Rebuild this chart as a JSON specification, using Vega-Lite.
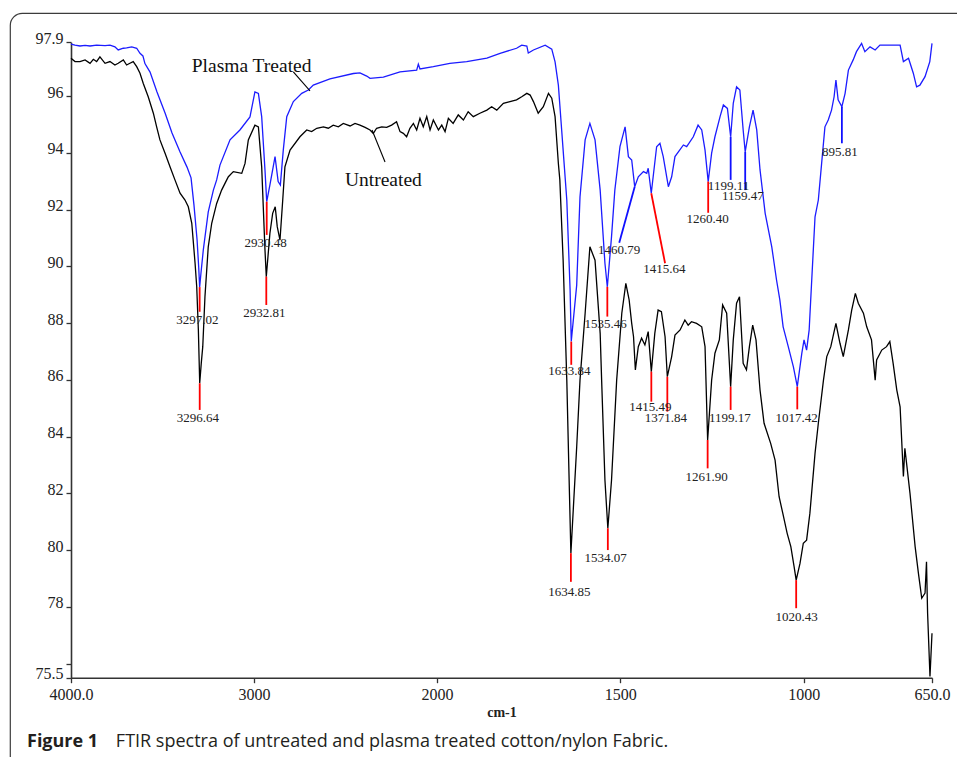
{
  "$schema": "https://vega.github.io/schema/vega-lite/v6.json",
  "autosize": {"type": "none"},
  "padding": {"left": 10, "top": 13, "right": 0, "bottom": 0},
  "width": 960,
  "height": 760,
  "background": "white",
  "config": {
    "view": {"stroke": "#3c3c3c", "strokeWidth": 1.2, "cornerRadius": 12},
    "font": "Liberation Serif"
  },
  "title": {
    "text": "Figure 1",
    "subtitle": "\u200b\u00a0\u00a0\u00a0\u00a0\u00a0\u00a0\u00a0\u00a0\u00a0\u00a0\u00a0\u00a0\u00a0\u00a0\u00a0\u00a0\u00a0\u00a0\u00a0FTIR spectra of untreated and plasma treated cotton/nylon Fabric.",
    "orient": "bottom",
    "anchor": "start",
    "frame": "group",
    "offset": -40,
    "dx": 17,
    "font": "Open Sans",
    "fontSize": 18,
    "fontWeight": "bold",
    "color": "#231f20",
    "subtitleFont": "Open Sans",
    "subtitleFontSize": 18,
    "subtitleFontWeight": "normal",
    "subtitleColor": "#231f20",
    "subtitlePadding": -18
  },
  "datasets": {
    "plasma": [
      {"wn": 4000, "t": 97.84}, {"wn": 3978, "t": 97.80}, {"wn": 3951, "t": 97.77}, {"wn": 3923, "t": 97.79},
      {"wn": 3896, "t": 97.77}, {"wn": 3860, "t": 97.80}, {"wn": 3814, "t": 97.78}, {"wn": 3787, "t": 97.80},
      {"wn": 3760, "t": 97.74}, {"wn": 3742, "t": 97.63}, {"wn": 3714, "t": 97.69}, {"wn": 3696, "t": 97.70},
      {"wn": 3668, "t": 97.74}, {"wn": 3641, "t": 97.69}, {"wn": 3623, "t": 97.51}, {"wn": 3607, "t": 97.42},
      {"wn": 3596, "t": 97.15}, {"wn": 3568, "t": 96.85}, {"wn": 3530, "t": 96.15}, {"wn": 3486, "t": 95.41},
      {"wn": 3448, "t": 94.70}, {"wn": 3404, "t": 94.03}, {"wn": 3366, "t": 93.50}, {"wn": 3344, "t": 93.12},
      {"wn": 3328, "t": 92.16}, {"wn": 3311, "t": 90.93}, {"wn": 3302, "t": 89.95}, {"wn": 3297.02, "t": 89.27},
      {"wn": 3290, "t": 89.75}, {"wn": 3277, "t": 90.58}, {"wn": 3250, "t": 91.92}, {"wn": 3222, "t": 92.69},
      {"wn": 3204, "t": 93.05}, {"wn": 3186, "t": 93.57}, {"wn": 3131, "t": 94.46}, {"wn": 3077, "t": 94.81},
      {"wn": 3022, "t": 95.27}, {"wn": 2995, "t": 96.15}, {"wn": 2976, "t": 96.10}, {"wn": 2958, "t": 95.28},
      {"wn": 2940, "t": 93.40}, {"wn": 2930.48, "t": 92.28}, {"wn": 2913, "t": 92.87}, {"wn": 2885, "t": 93.87},
      {"wn": 2868, "t": 92.99}, {"wn": 2856, "t": 92.87}, {"wn": 2840, "t": 94.10}, {"wn": 2821, "t": 95.28},
      {"wn": 2785, "t": 95.81}, {"wn": 2739, "t": 96.10}, {"wn": 2703, "t": 96.22}, {"wn": 2676, "t": 96.39},
      {"wn": 2585, "t": 96.61}, {"wn": 2457, "t": 96.80}, {"wn": 2421, "t": 96.82}, {"wn": 2384, "t": 96.71},
      {"wn": 2366, "t": 96.63}, {"wn": 2293, "t": 96.67}, {"wn": 2202, "t": 96.86}, {"wn": 2111, "t": 96.92},
      {"wn": 2102, "t": 97.13}, {"wn": 2093, "t": 96.96}, {"wn": 2020, "t": 97.04}, {"wn": 1965, "t": 97.16},
      {"wn": 1919, "t": 97.22}, {"wn": 1864, "t": 97.34}, {"wn": 1828, "t": 97.51}, {"wn": 1783, "t": 97.69},
      {"wn": 1769, "t": 97.80}, {"wn": 1755, "t": 97.77}, {"wn": 1751, "t": 97.52}, {"wn": 1737, "t": 97.63},
      {"wn": 1705, "t": 97.80}, {"wn": 1687, "t": 97.66}, {"wn": 1678, "t": 97.21}, {"wn": 1669, "t": 96.39},
      {"wn": 1660, "t": 94.81}, {"wn": 1656, "t": 94.10}, {"wn": 1646, "t": 92.34}, {"wn": 1637, "t": 89.17},
      {"wn": 1633.84, "t": 87.35}, {"wn": 1619, "t": 89.34}, {"wn": 1610, "t": 92.45}, {"wn": 1596, "t": 94.46},
      {"wn": 1583, "t": 95.04}, {"wn": 1569, "t": 94.46}, {"wn": 1555, "t": 92.69}, {"wn": 1542, "t": 90.11},
      {"wn": 1535.46, "t": 89.28}, {"wn": 1524, "t": 91.05}, {"wn": 1515, "t": 92.69}, {"wn": 1501, "t": 94.22},
      {"wn": 1487, "t": 94.92}, {"wn": 1478, "t": 93.87}, {"wn": 1469, "t": 93.75}, {"wn": 1460.79, "t": 92.81},
      {"wn": 1451, "t": 93.16}, {"wn": 1437, "t": 93.34}, {"wn": 1428, "t": 93.28}, {"wn": 1424, "t": 93.46},
      {"wn": 1415.64, "t": 92.58}, {"wn": 1401, "t": 94.22}, {"wn": 1392, "t": 94.34}, {"wn": 1383, "t": 93.87},
      {"wn": 1369, "t": 92.81}, {"wn": 1360, "t": 93.16}, {"wn": 1351, "t": 93.87}, {"wn": 1328, "t": 94.28},
      {"wn": 1319, "t": 94.22}, {"wn": 1301, "t": 94.57}, {"wn": 1288, "t": 94.98}, {"wn": 1278, "t": 94.81},
      {"wn": 1269, "t": 94.10}, {"wn": 1260.40, "t": 92.99}, {"wn": 1251, "t": 93.99}, {"wn": 1242, "t": 94.57},
      {"wn": 1228, "t": 95.28}, {"wn": 1219, "t": 95.69}, {"wn": 1208, "t": 95.57}, {"wn": 1199.11, "t": 94.57},
      {"wn": 1192, "t": 95.75}, {"wn": 1183, "t": 96.33}, {"wn": 1174, "t": 96.22}, {"wn": 1165, "t": 94.81},
      {"wn": 1159.47, "t": 94.04}, {"wn": 1148, "t": 94.92}, {"wn": 1138, "t": 95.51}, {"wn": 1128, "t": 94.81},
      {"wn": 1119, "t": 93.40}, {"wn": 1105, "t": 91.87}, {"wn": 1087, "t": 90.69}, {"wn": 1074, "t": 89.52},
      {"wn": 1065, "t": 88.82}, {"wn": 1056, "t": 87.87}, {"wn": 1042, "t": 87.17}, {"wn": 1028, "t": 86.46},
      {"wn": 1017.42, "t": 85.76}, {"wn": 1005, "t": 86.94}, {"wn": 999, "t": 87.41}, {"wn": 992, "t": 87.05},
      {"wn": 985, "t": 87.76}, {"wn": 978, "t": 89.52}, {"wn": 969, "t": 91.75}, {"wn": 960, "t": 92.34},
      {"wn": 951, "t": 93.63}, {"wn": 942, "t": 94.92}, {"wn": 933, "t": 95.16}, {"wn": 924, "t": 95.51},
      {"wn": 917, "t": 95.98}, {"wn": 912, "t": 96.57}, {"wn": 906, "t": 95.87}, {"wn": 895.81, "t": 95.63},
      {"wn": 887, "t": 96.10}, {"wn": 878, "t": 96.92}, {"wn": 865, "t": 97.28}, {"wn": 856, "t": 97.57},
      {"wn": 842, "t": 97.86}, {"wn": 833, "t": 97.57}, {"wn": 819, "t": 97.74}, {"wn": 805, "t": 97.63},
      {"wn": 792, "t": 97.80}, {"wn": 765, "t": 97.80}, {"wn": 737, "t": 97.80}, {"wn": 728, "t": 97.22},
      {"wn": 714, "t": 97.34}, {"wn": 701, "t": 96.81}, {"wn": 692, "t": 96.33}, {"wn": 683, "t": 96.39},
      {"wn": 669, "t": 96.69}, {"wn": 656, "t": 97.22}, {"wn": 650, "t": 97.86}
    ],
    "untreated": [
      {"wn": 4000, "t": 97.34}, {"wn": 3978, "t": 97.22}, {"wn": 3951, "t": 97.22}, {"wn": 3923, "t": 97.28},
      {"wn": 3896, "t": 97.16}, {"wn": 3878, "t": 97.30}, {"wn": 3860, "t": 97.22}, {"wn": 3842, "t": 97.39},
      {"wn": 3814, "t": 97.16}, {"wn": 3787, "t": 97.22}, {"wn": 3760, "t": 97.10}, {"wn": 3742, "t": 97.16},
      {"wn": 3714, "t": 97.28}, {"wn": 3696, "t": 97.10}, {"wn": 3678, "t": 97.16}, {"wn": 3660, "t": 97.22},
      {"wn": 3641, "t": 97.04}, {"wn": 3623, "t": 96.81}, {"wn": 3605, "t": 96.45}, {"wn": 3578, "t": 95.98},
      {"wn": 3550, "t": 95.40}, {"wn": 3532, "t": 94.92}, {"wn": 3514, "t": 94.46}, {"wn": 3486, "t": 93.99},
      {"wn": 3459, "t": 93.51}, {"wn": 3432, "t": 93.05}, {"wn": 3404, "t": 92.58}, {"wn": 3377, "t": 92.34},
      {"wn": 3359, "t": 92.10}, {"wn": 3340, "t": 91.52}, {"wn": 3322, "t": 90.11}, {"wn": 3313, "t": 89.28},
      {"wn": 3304, "t": 87.76}, {"wn": 3296.64, "t": 85.88}, {"wn": 3288, "t": 86.60}, {"wn": 3280, "t": 87.17},
      {"wn": 3268, "t": 88.93}, {"wn": 3250, "t": 90.69}, {"wn": 3231, "t": 91.52}, {"wn": 3204, "t": 92.22},
      {"wn": 3177, "t": 92.69}, {"wn": 3149, "t": 93.05}, {"wn": 3140, "t": 93.16}, {"wn": 3113, "t": 93.34},
      {"wn": 3067, "t": 93.28}, {"wn": 3049, "t": 93.63}, {"wn": 3031, "t": 94.46}, {"wn": 2995, "t": 94.98},
      {"wn": 2976, "t": 94.92}, {"wn": 2958, "t": 93.51}, {"wn": 2940, "t": 90.58}, {"wn": 2932.81, "t": 89.64},
      {"wn": 2913, "t": 91.17}, {"wn": 2898, "t": 91.87}, {"wn": 2884, "t": 92.10}, {"wn": 2873, "t": 91.40},
      {"wn": 2858, "t": 90.93}, {"wn": 2843, "t": 92.34}, {"wn": 2831, "t": 93.51}, {"wn": 2803, "t": 94.10},
      {"wn": 2749, "t": 94.57}, {"wn": 2712, "t": 94.81}, {"wn": 2685, "t": 94.75}, {"wn": 2657, "t": 94.87},
      {"wn": 2621, "t": 94.92}, {"wn": 2594, "t": 94.87}, {"wn": 2567, "t": 94.98}, {"wn": 2539, "t": 94.92},
      {"wn": 2512, "t": 95.04}, {"wn": 2475, "t": 94.95}, {"wn": 2448, "t": 95.04}, {"wn": 2421, "t": 94.98},
      {"wn": 2393, "t": 94.90}, {"wn": 2366, "t": 94.81}, {"wn": 2348, "t": 94.69}, {"wn": 2330, "t": 94.87},
      {"wn": 2302, "t": 94.92}, {"wn": 2275, "t": 94.90}, {"wn": 2248, "t": 94.98}, {"wn": 2221, "t": 95.10},
      {"wn": 2202, "t": 94.75}, {"wn": 2184, "t": 94.69}, {"wn": 2166, "t": 94.57}, {"wn": 2148, "t": 94.87},
      {"wn": 2129, "t": 95.04}, {"wn": 2111, "t": 94.81}, {"wn": 2093, "t": 95.22}, {"wn": 2075, "t": 94.92},
      {"wn": 2056, "t": 95.28}, {"wn": 2038, "t": 94.81}, {"wn": 2020, "t": 95.16}, {"wn": 1996, "t": 94.81},
      {"wn": 1987, "t": 94.98}, {"wn": 1978, "t": 94.75}, {"wn": 1969, "t": 95.22}, {"wn": 1956, "t": 95.04},
      {"wn": 1942, "t": 95.34}, {"wn": 1928, "t": 95.16}, {"wn": 1915, "t": 95.45}, {"wn": 1901, "t": 95.28},
      {"wn": 1883, "t": 95.40}, {"wn": 1864, "t": 95.51}, {"wn": 1851, "t": 95.63}, {"wn": 1837, "t": 95.51},
      {"wn": 1819, "t": 95.75}, {"wn": 1801, "t": 95.81}, {"wn": 1783, "t": 95.87}, {"wn": 1769, "t": 95.98},
      {"wn": 1755, "t": 96.10}, {"wn": 1746, "t": 96.04}, {"wn": 1737, "t": 95.81}, {"wn": 1724, "t": 95.40},
      {"wn": 1710, "t": 95.63}, {"wn": 1696, "t": 96.10}, {"wn": 1687, "t": 95.93}, {"wn": 1678, "t": 95.28},
      {"wn": 1669, "t": 93.63}, {"wn": 1665, "t": 93.05}, {"wn": 1656, "t": 90.22}, {"wn": 1646, "t": 85.99},
      {"wn": 1639, "t": 82.12}, {"wn": 1634.85, "t": 79.89}, {"wn": 1619, "t": 83.64}, {"wn": 1610, "t": 85.99},
      {"wn": 1596, "t": 88.35}, {"wn": 1583, "t": 90.69}, {"wn": 1569, "t": 90.22}, {"wn": 1555, "t": 87.64},
      {"wn": 1551, "t": 85.99}, {"wn": 1542, "t": 82.47}, {"wn": 1534.07, "t": 80.77}, {"wn": 1524, "t": 82.47},
      {"wn": 1510, "t": 85.99}, {"wn": 1496, "t": 88.35}, {"wn": 1485, "t": 89.40}, {"wn": 1476, "t": 88.82},
      {"wn": 1469, "t": 87.99}, {"wn": 1464, "t": 87.52}, {"wn": 1459, "t": 86.35}, {"wn": 1451, "t": 87.17},
      {"wn": 1442, "t": 87.47}, {"wn": 1433, "t": 87.23}, {"wn": 1424, "t": 87.70}, {"wn": 1415.49, "t": 86.29},
      {"wn": 1406, "t": 87.64}, {"wn": 1397, "t": 88.46}, {"wn": 1388, "t": 88.40}, {"wn": 1378, "t": 87.52},
      {"wn": 1371.84, "t": 86.11}, {"wn": 1360, "t": 86.82}, {"wn": 1351, "t": 87.58}, {"wn": 1337, "t": 87.76},
      {"wn": 1324, "t": 88.11}, {"wn": 1315, "t": 87.93}, {"wn": 1306, "t": 88.05}, {"wn": 1292, "t": 87.99},
      {"wn": 1278, "t": 87.87}, {"wn": 1269, "t": 87.17}, {"wn": 1261.90, "t": 83.88}, {"wn": 1251, "t": 85.99},
      {"wn": 1242, "t": 86.94}, {"wn": 1230, "t": 87.41}, {"wn": 1221, "t": 88.64}, {"wn": 1210, "t": 88.35},
      {"wn": 1199.17, "t": 85.76}, {"wn": 1192, "t": 87.41}, {"wn": 1183, "t": 88.70}, {"wn": 1175, "t": 88.93},
      {"wn": 1165, "t": 86.58}, {"wn": 1156, "t": 86.35}, {"wn": 1148, "t": 87.17}, {"wn": 1139, "t": 87.93},
      {"wn": 1130, "t": 87.41}, {"wn": 1119, "t": 85.64}, {"wn": 1108, "t": 84.47}, {"wn": 1090, "t": 83.76},
      {"wn": 1078, "t": 83.17}, {"wn": 1067, "t": 81.88}, {"wn": 1057, "t": 81.30}, {"wn": 1045, "t": 80.59},
      {"wn": 1035, "t": 80.12}, {"wn": 1026, "t": 79.41}, {"wn": 1020.43, "t": 78.94}, {"wn": 1010, "t": 79.53},
      {"wn": 1001, "t": 80.24}, {"wn": 992, "t": 80.35}, {"wn": 983, "t": 81.30}, {"wn": 969, "t": 83.41},
      {"wn": 960, "t": 84.47}, {"wn": 946, "t": 85.99}, {"wn": 937, "t": 86.82}, {"wn": 926, "t": 87.17},
      {"wn": 912, "t": 87.99}, {"wn": 901, "t": 87.29}, {"wn": 892, "t": 86.82}, {"wn": 878, "t": 87.76},
      {"wn": 869, "t": 88.46}, {"wn": 859, "t": 89.05}, {"wn": 851, "t": 88.70}, {"wn": 837, "t": 88.35},
      {"wn": 828, "t": 87.87}, {"wn": 815, "t": 87.41}, {"wn": 805, "t": 85.99}, {"wn": 801, "t": 86.70},
      {"wn": 787, "t": 87.05}, {"wn": 774, "t": 87.17}, {"wn": 765, "t": 87.35}, {"wn": 756, "t": 86.58},
      {"wn": 746, "t": 85.64}, {"wn": 737, "t": 85.05}, {"wn": 728, "t": 82.59}, {"wn": 724, "t": 83.59},
      {"wn": 710, "t": 82.00}, {"wn": 696, "t": 80.12}, {"wn": 687, "t": 79.18}, {"wn": 678, "t": 78.30},
      {"wn": 669, "t": 78.48}, {"wn": 665, "t": 79.59}, {"wn": 662, "t": 77.77}, {"wn": 655.5, "t": 75.54},
      {"wn": 650, "t": 77.07}
    ],
    "peaks": [
      {"peak": "3297.02", "set": "A", "wn": 3297.02, "wn2": 3297.02, "top": 89.27, "bottom": 88.40, "lx": 3309, "ly": 88.11},
      {"peak": "3296.64", "set": "A", "wn": 3296.64, "wn2": 3296.64, "top": 85.88, "bottom": 84.94, "lx": 3307, "ly": 84.64},
      {"peak": "2930.48", "set": "A", "wn": 2930.48, "wn2": 2930.48, "top": 92.28, "bottom": 91.11, "lx": 2937, "ly": 90.84},
      {"peak": "2932.81", "set": "A", "wn": 2932.81, "wn2": 2932.81, "top": 89.64, "bottom": 88.64, "lx": 2943, "ly": 88.35},
      {"peak": "1633.84", "set": "A", "wn": 1633.84, "wn2": 1633.84, "top": 87.35, "bottom": 86.53, "lx": 1639, "ly": 86.32},
      {"peak": "1535.46", "set": "A", "wn": 1535.46, "wn2": 1535.46, "top": 89.28, "bottom": 88.23, "lx": 1540, "ly": 87.96},
      {"peak": "1415.64", "set": "A", "wn": 1415.64, "wn2": 1378, "top": 92.58, "bottom": 90.11, "lx": 1380, "ly": 89.90},
      {"peak": "1260.40", "set": "A", "wn": 1260.40, "wn2": 1260.40, "top": 92.99, "bottom": 91.89, "lx": 1262, "ly": 91.66},
      {"peak": "1017.42", "set": "A", "wn": 1017.42, "wn2": 1017.42, "top": 85.76, "bottom": 84.96, "lx": 1019, "ly": 84.64},
      {"peak": "1634.85", "set": "A", "wn": 1634.85, "wn2": 1634.85, "top": 79.89, "bottom": 78.88, "lx": 1639, "ly": 78.51},
      {"peak": "1534.07", "set": "A", "wn": 1534.07, "wn2": 1534.07, "top": 80.77, "bottom": 80.00, "lx": 1540, "ly": 79.71},
      {"peak": "1415.49", "set": "A", "wn": 1415.49, "wn2": 1415.49, "top": 86.29, "bottom": 85.23, "lx": 1418, "ly": 85.05},
      {"peak": "1371.84", "set": "A", "wn": 1371.84, "wn2": 1371.84, "top": 86.11, "bottom": 84.88, "lx": 1376, "ly": 84.64},
      {"peak": "1261.90", "set": "A", "wn": 1261.90, "wn2": 1261.90, "top": 83.88, "bottom": 82.88, "lx": 1265, "ly": 82.59},
      {"peak": "1199.17", "set": "A", "wn": 1199.17, "wn2": 1199.17, "top": 85.76, "bottom": 84.94, "lx": 1201, "ly": 84.64},
      {"peak": "1020.43", "set": "A", "wn": 1020.43, "wn2": 1020.43, "top": 78.94, "bottom": 77.95, "lx": 1019, "ly": 77.65},
      {"peak": "1460.79", "set": "B", "wn": 1460.79, "wn2": 1503, "top": 92.81, "bottom": 90.83, "lx": 1503, "ly": 90.58},
      {"peak": "1199.11", "set": "B", "wn": 1199.11, "wn2": 1199.11, "top": 94.57, "bottom": 93.05, "lx": 1205, "ly": 92.83},
      {"peak": "1159.47", "set": "B", "wn": 1159.47, "wn2": 1159.47, "top": 94.04, "bottom": 92.69, "lx": 1166, "ly": 92.49},
      {"peak": "895.81", "set": "B", "wn": 895.81, "wn2": 895.81, "top": 95.63, "bottom": 94.34, "lx": 901, "ly": 94.04}
    ],
    "names": [
      {"name": "Plasma Treated", "lx": 3013, "ly": 97.06, "wn": 2785, "wn2": 2694, "top": 96.86, "bottom": 96.19},
      {"name": "Untreated", "lx": 2293, "ly": 93.05, "wn": 2355, "wn2": 2284, "top": 94.81, "bottom": 93.68}
    ]
  },
  "layer": [
    {
      "data": {"name": "plasma"},
      "mark": {"type": "line", "color": "#1c1cff", "strokeWidth": 1.3},
      "encoding": {
        "x": {
          "field": "wn", "type": "quantitative", "title": "cm-1",
          "scale": {"type": "linear", "domain": [4000, 2000, 650], "range": [61, 427, 922], "nice": false, "zero": false},
          "axis": {
            "orient": "bottom", "offset": -95.3, "values": [4000, 3000, 2000, 1500, 1000, 650],
            "labelExpr": "datum.value == 4000 ? '4000.0' : datum.value == 650 ? '650.0' : format(datum.value, 'd')",
            "labelFont": "Liberation Serif", "labelFontSize": 16, "labelColor": "#222", "labelPadding": 4,
            "labelFlush": false, "labelOverlap": false, "labelBound": false,
            "tickSize": 5, "tickColor": "#333", "tickWidth": 1.3,
            "domainColor": "#333", "domainWidth": 1.6, "grid": false,
            "titleFont": "Liberation Serif", "titleFontSize": 14, "titleFontWeight": "bold", "titleColor": "#222", "titlePadding": 3
          }
        },
        "y": {
          "field": "t", "type": "quantitative", "title": null,
          "scale": {"type": "linear", "domain": [75.5, 97.9], "range": [664.7, 29.3], "nice": false, "zero": false},
          "axis": {
            "orient": "left", "offset": -61, "values": [75.5, 76, 78, 80, 82, 84, 86, 88, 90, 92, 94, 96, 97.9],
            "labelExpr": "datum.value == 76 ? '' : datum.value == 75.5 ? '75.5' : datum.value == 97.9 ? '97.9' : format(datum.value, 'd')",
            "labelFont": "Liberation Serif", "labelFontSize": 16, "labelColor": "#222", "labelPadding": 3,
            "labelBaseline": "alphabetic", "labelOffset": 1,
            "labelFlush": false, "labelOverlap": false, "labelBound": false,
            "tickSize": 5, "tickColor": "#333", "tickWidth": 1.3,
            "domainColor": "#333", "domainWidth": 1.6, "grid": false
          }
        }
      }
    },
    {
      "data": {"name": "untreated"},
      "mark": {"type": "line", "color": "#000000", "strokeWidth": 1.3},
      "encoding": {
        "x": {"field": "wn", "type": "quantitative", "title": "cm-1"},
        "y": {"field": "t", "type": "quantitative", "title": null}
      }
    },
    {
      "data": {"name": "peaks"},
      "transform": [{"filter": "datum.set == 'A'"}],
      "mark": {"type": "rule", "color": "#ff0000", "strokeWidth": 1.8},
      "encoding": {
        "x": {"field": "wn", "type": "quantitative", "title": "cm-1"},
        "x2": {"field": "wn2"},
        "y": {"field": "top", "type": "quantitative", "title": null},
        "y2": {"field": "bottom"}
      }
    },
    {
      "data": {"name": "peaks"},
      "transform": [{"filter": "datum.set == 'B'"}],
      "mark": {"type": "rule", "color": "#1010ff", "strokeWidth": 1.8},
      "encoding": {
        "x": {"field": "wn", "type": "quantitative", "title": "cm-1"},
        "x2": {"field": "wn2"},
        "y": {"field": "top", "type": "quantitative", "title": null},
        "y2": {"field": "bottom"}
      }
    },
    {
      "data": {"name": "peaks"},
      "mark": {"type": "text", "font": "Liberation Serif", "fontSize": 13, "color": "#222", "align": "center", "baseline": "middle"},
      "encoding": {
        "x": {"field": "lx", "type": "quantitative", "title": "cm-1"},
        "y": {"field": "ly", "type": "quantitative", "title": null},
        "text": {"field": "peak"}
      }
    },
    {
      "data": {"name": "names"},
      "mark": {"type": "rule", "color": "#000000", "strokeWidth": 1.1},
      "encoding": {
        "x": {"field": "wn", "type": "quantitative", "title": "cm-1"},
        "x2": {"field": "wn2"},
        "y": {"field": "top", "type": "quantitative", "title": null},
        "y2": {"field": "bottom"}
      }
    },
    {
      "data": {"name": "names"},
      "mark": {"type": "text", "font": "Liberation Serif", "fontSize": 19.5, "color": "#111", "align": "center", "baseline": "middle"},
      "encoding": {
        "x": {"field": "lx", "type": "quantitative", "title": "cm-1"},
        "y": {"field": "ly", "type": "quantitative", "title": null},
        "text": {"field": "name"}
      }
    }
  ]
}
